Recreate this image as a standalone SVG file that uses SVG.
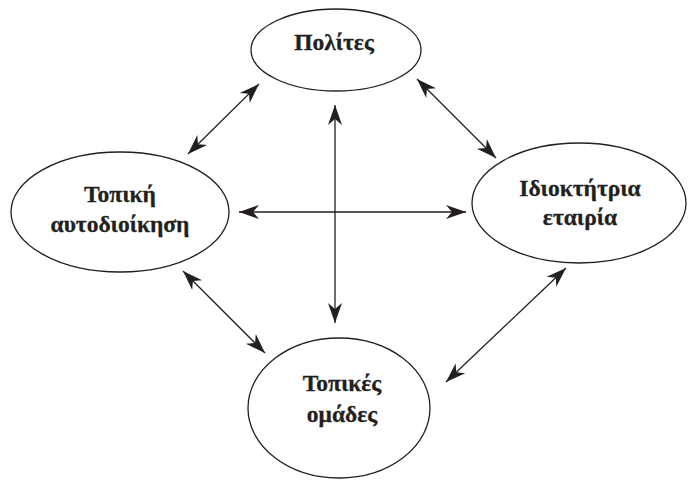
<svg xmlns="http://www.w3.org/2000/svg" width="691" height="481" viewBox="0 0 691 481">
<style>
.node ellipse{fill:#fff;stroke:#231f20;stroke-width:1.3}
.node text{font-family:"Liberation Serif","Times New Roman",serif;font-weight:bold;font-size:23.5px;fill:#231f20;stroke:#231f20;stroke-width:0.3;text-anchor:middle}
.conn line{stroke:#231f20;stroke-width:1.3;marker-start:url(#ah);marker-end:url(#ah)}
</style>
<defs>
<marker id="ah" markerUnits="userSpaceOnUse" markerWidth="24" markerHeight="18" viewBox="-21 -9 22 18" refX="0" refY="0" orient="auto-start-reverse">
<path d="M0,0 L-20,-7 L-14,0 L-20,7 Z" fill="#231f20"/>
</marker>
</defs>
<rect width="691" height="481" fill="#fff"/>
<g class="conn">
<line x1="188" y1="154" x2="259" y2="84"/>
<line x1="417" y1="79" x2="496" y2="158"/>
<line x1="183" y1="271" x2="265" y2="353"/>
<line x1="446" y1="382" x2="566" y2="268"/>
<line x1="239" y1="212" x2="466" y2="212"/>
<line x1="335" y1="105" x2="335" y2="323"/>
</g>
<g id="politeis" class="node">
<ellipse cx="336" cy="50" rx="85" ry="41"/>
<text x="334" y="50">Πολίτες</text>
</g>
<g id="topiki-aftodioikisi" class="node">
<ellipse cx="120" cy="212" rx="109" ry="60"/>
<text x="120" y="202">Τοπική</text>
<text x="120" y="232">αυτοδιοίκηση</text>
</g>
<g id="idioktitria-etairia" class="node">
<ellipse cx="579" cy="203" rx="107" ry="60"/>
<text x="580" y="196">Ιδιοκτήτρια</text>
<text x="580" y="225">εταιρία</text>
</g>
<g id="topikes-omades" class="node">
<ellipse cx="339" cy="408" rx="91" ry="70"/>
<text x="342" y="391">Τοπικές</text>
<text x="342" y="422">ομάδες</text>
</g>
</svg>
